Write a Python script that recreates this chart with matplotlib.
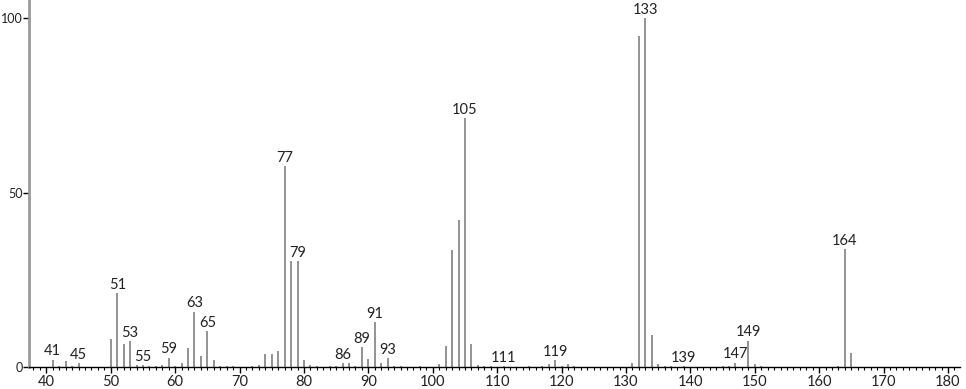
import matplotlib
matplotlib.use("Agg")
from matplotlib import pyplot as plt
from matplotlib.ticker import MultipleLocator

# m/z and relative intensity
mz = [41, 42, 43, 44, 45, 50, 51, 52, 53, 54, 55, 56, 57, 58, 59, 60, 61, 62, 63, 64,
      65, 66, 67, 68, 69, 72, 73, 74, 75, 76, 77, 78, 79, 80, 81, 82, 84, 85, 86, 87,
      88, 89, 90, 91, 92, 93, 94, 95, 98, 101, 102, 103, 104, 105, 106, 107, 108, 109,
      111, 115, 117, 118, 119, 120, 121, 122, 131, 132, 133, 134, 135, 136, 137, 139,
      145, 146, 147, 149, 150, 151, 163, 164, 165]
intensity = [2.1, 0.4, 1.7, 0.4, 1.0, 8.1, 21.2, 6.7, 7.4, 0.6, 0.5, 0.3, 0.4, 0.5, 2.7,
             0.4, 1.2, 5.3, 15.8, 3.2, 10.3, 2.1, 0.4, 0.3, 0.3, 0.3, 0.7, 3.7, 3.7, 4.6,
             57.6, 30.4, 30.4, 2.1, 0.5, 0.3, 0.3, 0.4, 1.1, 1.1, 0.4, 5.6, 2.2, 12.9,
             1.1, 2.6, 0.4, 0.3, 0.3, 0.8, 5.9, 33.4, 42.2, 71.4, 6.5, 0.5, 0.4, 0.3,
             0.3, 0.3, 0.4, 0.8, 1.9, 0.4, 0.8, 0.3, 1.2, 95.0, 100.0, 9.3, 0.8, 0.3, 0.3,
             0.3, 0.3, 0.4, 1.2, 7.5, 0.8, 0.3, 0.3, 33.7, 4.1]
labeled = [41, 45, 51, 53, 55, 59, 63, 65, 77, 79, 86, 89, 91, 93, 105, 111, 119,
           133, 139, 147, 149, 164]

plt.rcParams["font.family"] = ["Lato", "DejaVu Sans"]

fig = plt.figure(figsize=(9.66, 3.89), dpi=100)
ax = fig.add_axes([0.030, 0.0566, 0.964, 0.9434])

ax.vlines(mz, 0, intensity, colors="#8a8a8a", linewidth=1.3)

for m in labeled:
    h = intensity[mz.index(m)]
    ax.annotate(str(m), (m, h), xytext=(0, 1), textcoords="offset points",
                ha="center", va="bottom", fontsize=10.5, color="#222222")

ax.set_xlim(37.3, 181.9)
ax.set_ylim(0, 105.2)
ax.xaxis.set_major_locator(MultipleLocator(10))
ax.xaxis.set_minor_locator(MultipleLocator(1))
ax.set_yticks([0, 50, 100])

for s in ["top", "right"]:
    ax.spines[s].set_visible(False)
ax.spines["left"].set_color("#9a9a9a")
ax.spines["left"].set_linewidth(2)
ax.spines["bottom"].set_linewidth(1)

ax.tick_params(axis="x", which="major", length=4, width=1, labelsize=10.5, pad=2,
               labelcolor="#222222")
ax.tick_params(axis="x", which="minor", length=2, width=0.8)
ax.tick_params(axis="y", length=4, width=1, labelsize=9, pad=0.5, labelcolor="#222222")

fig.savefig("out.png", dpi=100)
